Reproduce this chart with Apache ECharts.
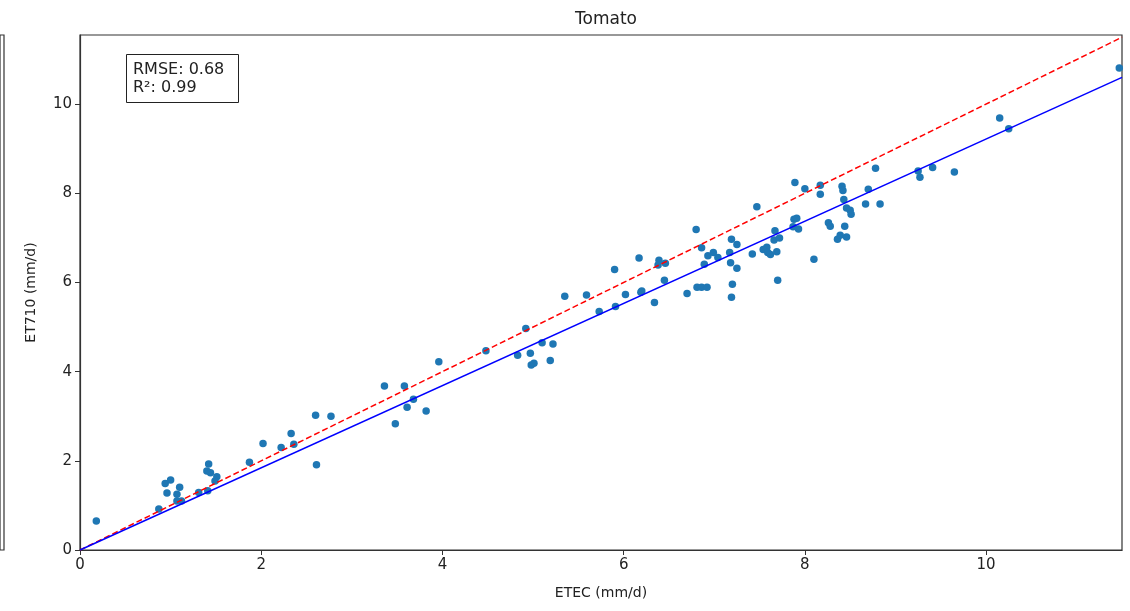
<!DOCTYPE html>
<html>
<head>
<meta charset="utf-8">
<script src="https://cdn.jsdelivr.net/npm/echarts@6/dist/echarts.min.js"></script>
<style>html,body{margin:0;padding:0;background:#fff;}#c{width:1130px;height:611px;}</style>
</head>
<body>
<div id="c"></div>
<script>
const titleText = 'Tomato';
const xName = 'ETEC (mm/d)';
const yName = 'ET710 (mm/d)';
const statsText = 'RMSE: 0.68\nR²: 0.99';
const xTicks = [0, 2, 4, 6, 8, 10];
const yTicks = [0, 2, 4, 6, 8, 10];
const axisMax = 11.5;
const yAxisMax = 11.55;

// ETEC (x) values
const etec = [
  0.18, 0.87, 0.94, 1.00, 0.96, 1.10, 1.07, 1.07, 1.12, 1.31,
  1.42, 1.40, 1.44, 1.51, 1.49, 1.41, 1.87, 2.02, 2.22, 2.33,
  2.36, 2.60, 2.61, 2.77, 3.36, 3.48, 3.58, 3.61, 3.68, 3.82,
  3.96, 4.48, 4.83, 4.97, 4.92, 4.98, 5.01, 5.10, 5.22, 5.19,
  5.35, 5.59, 5.73, 5.91, 5.90, 6.02, 6.17, 6.19, 6.20, 6.34,
  6.39, 6.38, 6.46, 6.45, 6.70, 6.80, 6.86, 6.81, 6.86, 6.92,
  6.89, 6.93, 6.99, 7.04, 7.17, 7.19, 7.25, 7.18, 7.25, 7.20,
  7.19, 7.42, 7.47, 7.54, 7.58, 7.59, 7.62, 7.69, 7.66, 7.72,
  7.67, 7.70, 7.89, 7.88, 7.91, 7.93, 7.87, 8.00, 8.17, 8.17,
  8.10, 8.26, 8.28, 8.36, 8.39, 8.46, 8.44, 8.41, 8.42, 8.43,
  8.46, 8.50, 8.51, 8.67, 8.70, 8.78, 8.83, 9.25, 9.27, 9.41,
  9.65, 10.15, 10.25, 11.47
];
// ET710 (y) values
const et710 = [
  0.65, 0.92, 1.49, 1.57, 1.28, 1.41, 1.25, 1.10, 1.10, 1.29,
  1.93, 1.77, 1.73, 1.64, 1.55, 1.33, 1.97, 2.39, 2.30, 2.61,
  2.37, 3.02, 1.91, 3.00, 3.68, 2.83, 3.68, 3.20, 3.38, 3.12,
  4.22, 4.47, 4.37, 4.41, 4.97, 4.15, 4.19, 4.65, 4.62, 4.25,
  5.69, 5.72, 5.35, 5.46, 6.29, 5.73, 6.55, 5.78, 5.81, 5.55,
  6.50, 6.39, 6.43, 6.05, 5.75, 7.19, 6.78, 5.89, 5.89, 5.89,
  6.41, 6.60, 6.67, 6.56, 6.67, 6.97, 6.85, 6.44, 6.32, 5.96,
  5.67, 6.64, 7.70, 6.74, 6.79, 6.67, 6.63, 6.69, 6.95, 7.00,
  7.16, 6.05, 8.24, 7.42, 7.44, 7.20, 7.25, 8.10, 8.18, 7.98,
  6.52, 7.34, 7.26, 6.97, 7.06, 7.02, 7.26, 8.16, 8.06, 7.86,
  7.67, 7.62, 7.53, 7.76, 8.09, 8.56, 7.76, 8.50, 8.36, 8.58,
  8.48, 9.69, 9.45, 10.81
];
const oneToOne = [[0, 0], [11.5, 11.5]];
const fitLine = [[0, 0], [11.5, 10.6]];

const points = etec.map((x, i) => [x, et710[i]]);
const chart = echarts.init(document.getElementById('c'), null, {renderer: 'canvas'});
const font = 'DejaVu Sans';
const tickFmt = (ticks) => (v) => ticks.includes(Math.round(v * 1000) / 1000) ? String(Math.round(v)) : '';

chart.setOption({
  animation: false,
  backgroundColor: '#fff',
  textStyle: {fontFamily: font},
  title: [
    {text: titleText, left: 601, top: 6, textAlign: 'center',
     textStyle: {fontFamily: font, fontSize: 17, fontWeight: 'normal', color: '#222'}},
    {text: statsText, left: 126, top: 54, padding: [7, 14, 6, 7],
     borderColor: '#222', borderWidth: 1, backgroundColor: '#fff',
     textStyle: {fontFamily: font, fontSize: 16, fontWeight: 'normal', color: '#222', lineHeight: 18}}
  ],
  grid: [
    {left: 80, right: 8, top: 35, bottom: 61, show: true, borderColor: '#333', borderWidth: 1.2, backgroundColor: 'transparent'},
    {left: -2, width: 6, top: 35, bottom: 61, show: true, borderColor: '#333', borderWidth: 1.2, backgroundColor: 'transparent'}
  ],
  xAxis: [
    {type: 'value', gridIndex: 0, min: 0, max: axisMax, interval: 2,
     name: xName, nameLocation: 'middle', nameGap: 36,
     nameTextStyle: {fontFamily: font, fontSize: 14, color: '#222'},
     axisLine: {show: true, onZero: false, lineStyle: {color: '#333', width: 1.2}},
     axisTick: {show: true, inside: false, length: 5, lineStyle: {color: '#333'}},
     axisLabel: {fontFamily: font, fontSize: 15, color: '#222', margin: 8, showMaxLabel: false, formatter: tickFmt(xTicks)},
     splitLine: {show: false}},
    {type: 'value', gridIndex: 1, min: 0, max: 1, show: false}
  ],
  yAxis: [
    {type: 'value', gridIndex: 0, min: 0, max: yAxisMax, interval: 2,
     name: yName, nameLocation: 'middle', nameGap: 42, nameRotate: 90,
     nameTextStyle: {fontFamily: font, fontSize: 14, color: '#222'},
     axisLine: {show: true, onZero: false, lineStyle: {color: '#333', width: 1.2}},
     axisTick: {show: true, inside: false, length: 5, lineStyle: {color: '#333'}},
     axisLabel: {fontFamily: font, fontSize: 15, color: '#222', margin: 8, showMaxLabel: false, formatter: tickFmt(yTicks)},
     splitLine: {show: false}},
    {type: 'value', gridIndex: 1, min: 0, max: 1, show: false}
  ],
  series: [
    {type: 'scatter', xAxisIndex: 0, yAxisIndex: 0, data: points, symbolSize: 7.5,
     itemStyle: {color: '#1f77b4', opacity: 1}, z: 2},
    {type: 'line', xAxisIndex: 0, yAxisIndex: 0, data: oneToOne, symbol: 'none',
     lineStyle: {color: '#ff0000', width: 1.5, type: [6, 3]}, z: 3},
    {type: 'line', xAxisIndex: 0, yAxisIndex: 0, data: fitLine, symbol: 'none',
     lineStyle: {color: '#0000ff', width: 1.5}, z: 4}
  ]
});
</script>
</body>
</html>
